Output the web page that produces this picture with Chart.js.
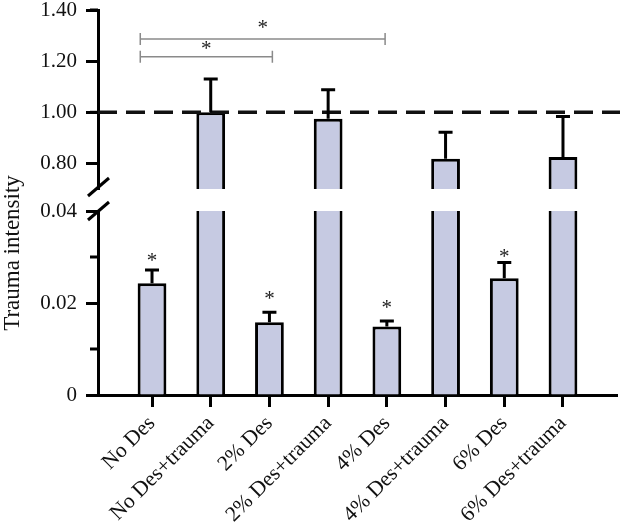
<!DOCTYPE html>
<html>
<head>
<meta charset="utf-8">
<script src="https://cdn.jsdelivr.net/npm/chart.js@4.4.0/dist/chart.umd.min.js"></script>
<style>
html,body{margin:0;padding:0;background:#fff;}
#wrap{width:620px;height:531px;position:relative;}
</style>
</head>
<body>
<div id="wrap"><canvas id="c" width="620" height="531"></canvas></div>
<script>
// ---- data ----
const categories = ['No Des','No Des+trauma','2% Des','2% Des+trauma','4% Des','4% Des+trauma','6% Des','6% Des+trauma'];
const means      = [0.0243, 1.000, 0.0158, 0.975, 0.0149, 0.818, 0.0254, 0.825];
const errUpper   = [0.0272, 1.130, 0.0180, 1.088, 0.0161, 0.922, 0.0288, 0.984];
const starLevels = [0.0300, null, 0.0217, null, 0.0197, null, 0.0309, null];
const topRange    = [0.70, 1.40];
const bottomRange = [0, 0.04];
const topTickValues    = [0.80, 0.90, 1.00, 1.10, 1.20, 1.30, 1.40];
const topTickLabels    = ['0.80', '', '1.00', '', '1.20', '', '1.40'];
const bottomTickValues = [0, 0.01, 0.02, 0.03, 0.04];
const bottomTickLabels = ['0', '', '0.02', '', '0.04'];
const refLine = 1.00;
const bracketFrom  = [-0.2, -0.2];
const bracketTo    = [2.05, 3.97];
const bracketLevel = [1.217, 1.287];
const bracketStarLevel = [1.262, 1.345];
const yTitle = 'Trauma intensity';

const SERIF = "'Liberation Serif','Times New Roman',serif";
const BAR_FILL = '#c6cae2';

const topData = [];
means.forEach((m, i) => { if (m >= topRange[0]) topData.push({x: i, y: m}); });
const bottomData = means.map((m, i) => ({x: i, y: m}));

function fitY(s) { s.width = 98; s.paddingTop = 0; s.paddingBottom = 0; }

const overlay = {
  id: 'overlay',
  afterDatasetsDraw(chart) {
    const {ctx, scales} = chart;
    const x = scales.x, yT = scales.yTop, yB = scales.yBot;
    const axisFor = v => (v >= topRange[0] ? yT : yB);
    ctx.save();
    // dashed reference line
    ctx.strokeStyle = '#111';
    ctx.lineWidth = 3.5;
    ctx.setLineDash([19, 9]);
    const ry = yT.getPixelForValue(refLine);
    ctx.beginPath(); ctx.moveTo(x.left, ry); ctx.lineTo(chart.width, ry); ctx.stroke();
    ctx.setLineDash([]);
    // error bars (upper only)
    ctx.strokeStyle = '#000';
    ctx.lineWidth = 3;
    means.forEach((m, i) => {
      const s = axisFor(m);
      const cx = x.getPixelForValue(i);
      const y0 = s.getPixelForValue(m);
      const y1 = s.getPixelForValue(errUpper[i]);
      ctx.beginPath();
      ctx.moveTo(cx, y0); ctx.lineTo(cx, y1);
      ctx.moveTo(cx - 7, y1); ctx.lineTo(cx + 7, y1);
      ctx.stroke();
    });
    // stars
    ctx.fillStyle = '#222';
    ctx.font = '21px ' + SERIF;
    ctx.textAlign = 'center';
    ctx.textBaseline = 'alphabetic';
    const mt = ctx.measureText('*');
    const shift = (mt.actualBoundingBoxAscent - mt.actualBoundingBoxDescent) / 2;
    starLevels.forEach((v, i) => {
      if (v === null) return;
      const s = axisFor(v);
      ctx.fillText('*', x.getPixelForValue(i), s.getPixelForValue(v) + shift);
    });
    // significance brackets
    ctx.strokeStyle = '#8a8a8a';
    ctx.lineWidth = 1.5;
    bracketLevel.forEach((lv, k) => {
      const y = yT.getPixelForValue(lv);
      const xa = x.getPixelForValue(bracketFrom[k]);
      const xb = x.getPixelForValue(bracketTo[k]);
      ctx.beginPath();
      ctx.moveTo(xa, y); ctx.lineTo(xb, y);
      ctx.moveTo(xa, y - 6); ctx.lineTo(xa, y + 6);
      ctx.moveTo(xb, y - 6); ctx.lineTo(xb, y + 6);
      ctx.stroke();
      ctx.fillText('*', (xa + xb) / 2, yT.getPixelForValue(bracketStarLevel[k]) + shift);
    });
    ctx.restore();
  },
  afterDraw(chart) {
    const {ctx, scales} = chart;
    const yT = scales.yTop, yB = scales.yBot;
    ctx.save();
    ctx.strokeStyle = '#000';
    ctx.lineWidth = 3;
    // minor ticks (shorter)
    [[yT, topTickLabels], [yB, bottomTickLabels]].forEach(([s, labels]) => {
      s.ticks.forEach((t, i) => {
        if (labels[i]) return;
        const py = s.getPixelForValue(t.value);
        ctx.beginPath(); ctx.moveTo(s.right - 8, py); ctx.lineTo(s.right, py); ctx.stroke();
      });
    });
    // axis break marks
    const ax = yT.right;
    [yT.bottom - 2, yB.top].forEach(cy => {
      ctx.beginPath(); ctx.moveTo(ax - 10, cy + 9); ctx.lineTo(ax + 11, cy - 9); ctx.stroke();
    });
    // y axis title
    ctx.fillStyle = '#111';
    ctx.font = '23px ' + SERIF;
    ctx.textAlign = 'center';
    ctx.textBaseline = 'middle';
    ctx.translate(13, 253);
    ctx.rotate(-Math.PI / 2);
    ctx.fillText(yTitle, 0, 0);
    ctx.restore();
  }
};

new Chart(document.getElementById('c'), {
  type: 'bar',
  data: {
    datasets: [
      {
        data: topData, yAxisID: 'yTop', base: topRange[0],
        backgroundColor: BAR_FILL, borderColor: '#000', borderWidth: 3, clip: 0, grouped: false
      },
      {
        data: bottomData, yAxisID: 'yBot',
        backgroundColor: BAR_FILL, borderColor: '#000', borderWidth: 3, clip: 0, grouped: false
      }
    ]
  },
  options: {
    responsive: false,
    animation: false,
    devicePixelRatio: 1,
    layout: {padding: {top: 10, right: 3, left: 0, bottom: 0}},
    datasets: {bar: {categoryPercentage: 1, barPercentage: 0.49}},
    plugins: {legend: {display: false}, tooltip: {enabled: false}},
    scales: {
      x: {
        type: 'linear', position: 'bottom', min: -0.92, max: 7.92, offset: false,
        afterBuildTicks: s => { s.ticks = categories.map((c, i) => ({value: i})); },
        afterFit: s => { s.height = 136; s.paddingLeft = 0; s.paddingRight = 0; },
        ticks: {
          callback: v => categories[v], autoSkip: false, maxRotation: 45, minRotation: 45,
          font: {family: SERIF, size: 21.5}, color: '#111', padding: 4
        },
        grid: {drawOnChartArea: false, offset: false, tickLength: 12, tickWidth: 3, tickColor: '#000'},
        border: {color: '#000', width: 3}
      },
      yTop: {
        type: 'linear', position: 'left', stack: 'y', stackWeight: 179, weight: 3,
        min: topRange[0], max: topRange[1], beginAtZero: false,
        afterBuildTicks: s => { s.ticks = topTickValues.map(v => ({value: v})); },
        afterFit: fitY,
        ticks: {callback: (v, i) => topTickLabels[i], font: {family: SERIF, size: 21, lineHeight: 1}, color: '#111', padding: 9},
        grid: {drawOnChartArea: false, tickLength: 12, tickWidth: 3,
               tickColor: c => (topTickLabels[c.index] ? '#000' : 'rgba(0,0,0,0)')},
        border: {color: '#000', width: 3}
      },
      yGap: {
        type: 'linear', position: 'left', stack: 'y', stackWeight: 22, weight: 2,
        min: 0, max: 1, afterFit: fitY,
        ticks: {display: false}, grid: {display: false}, border: {display: false}
      },
      yBot: {
        type: 'linear', position: 'left', stack: 'y', stackWeight: 184, weight: 1,
        min: bottomRange[0], max: bottomRange[1],
        afterBuildTicks: s => { s.ticks = bottomTickValues.map(v => ({value: v})); },
        afterFit: fitY,
        ticks: {callback: (v, i) => bottomTickLabels[i], font: {family: SERIF, size: 21, lineHeight: 1}, color: '#111', padding: 9},
        grid: {drawOnChartArea: false, tickLength: 12, tickWidth: 3,
               tickColor: c => (bottomTickLabels[c.index] ? '#000' : 'rgba(0,0,0,0)')},
        border: {color: '#000', width: 3}
      }
    }
  },
  plugins: [overlay]
});
</script>
</body>
</html>
